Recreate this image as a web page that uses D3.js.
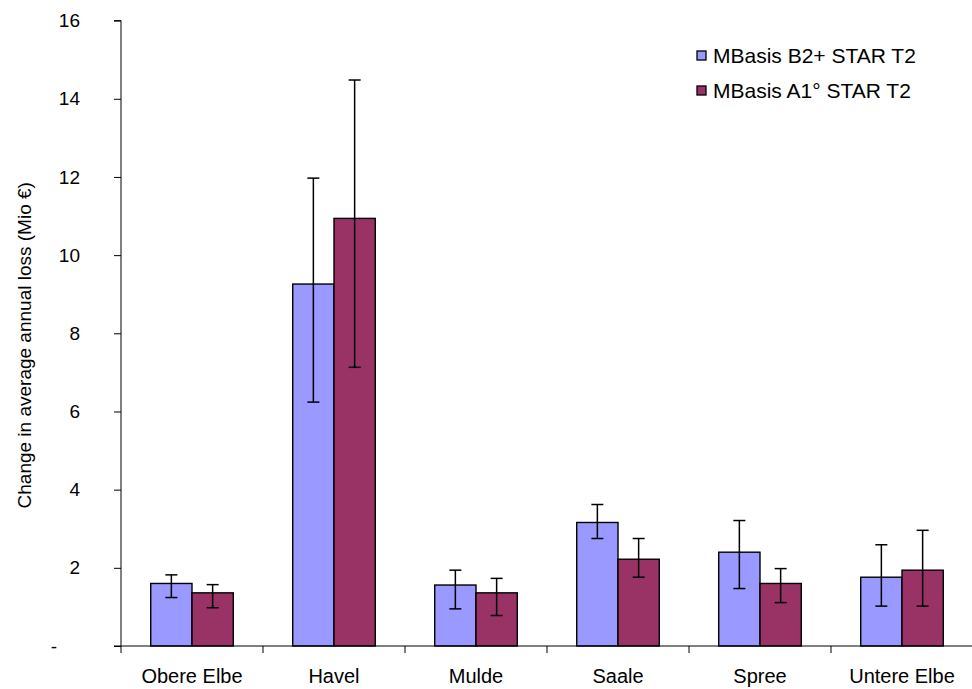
<!DOCTYPE html>
<html><head><meta charset="utf-8">
<script src="https://cdn.jsdelivr.net/npm/d3@7"></script>
<style>body{margin:0;background:#fff}svg{display:block}text{font-family:"Liberation Sans",Arial,sans-serif;fill:#000}</style>
</head><body>
<script>
const categories = ["Obere Elbe","Havel","Mulde","Saale","Spree","Untere Elbe"];
const seriesNames = ["MBasis B2+ STAR T2","MBasis A1° STAR T2"];
const seriesColors = ["#9999FF","#993366"];
const b2Values = [1.60, 9.26, 1.56, 3.16, 2.40, 1.76];
const b2Upper  = [1.82, 11.97, 1.94, 3.62, 3.21, 2.59];
const b2Lower  = [1.24, 6.24, 0.95, 2.75, 1.47, 1.02];
const a1Values = [1.36, 10.94, 1.36, 2.22, 1.60, 1.94];
const a1Upper  = [1.57, 14.48, 1.73, 2.75, 1.98, 2.96];
const a1Lower  = [0.98, 7.13, 0.78, 1.76, 1.11, 1.02];
const yTicks = [0,2,4,6,8,10,12,14,16];
const yTitle = "Change in average annual loss (Mio €)";

const W=972,H=689;
const m={left:121};
const svg=d3.select("body").append("svg").attr("width",W).attr("height",H);
const x=d3.scaleBand().domain(categories).range([m.left,973]).paddingInner(0).paddingOuter(0);
const y=d3.scaleLinear().domain([0,16]).range([646,20.6]);
const inner=d3.scaleBand().domain([0,1]).range([0,x.bandwidth()]).paddingInner(0).paddingOuter(0.72);

const series=[
  {vals:b2Values,up:b2Upper,lo:b2Lower},
  {vals:a1Values,up:a1Upper,lo:a1Lower}
];
const g=svg.append("g");
series.forEach((s,si)=>{
  categories.forEach((c,ci)=>{
    const x0=x(c)+inner(si);
    g.append("rect").attr("x",x0).attr("y",y(s.vals[ci])).attr("width",inner.bandwidth()).attr("height",y(0)-y(s.vals[ci]))
      .attr("fill",seriesColors[si]).attr("stroke","#000").attr("stroke-width",1.4);
  });
});
series.forEach((s,si)=>{
  categories.forEach((c,ci)=>{
    const cx=x(c)+inner(si)+inner.bandwidth()/2;
    g.append("line").attr("x1",cx).attr("x2",cx).attr("y1",y(s.up[ci])).attr("y2",y(s.lo[ci])).attr("stroke","#000").attr("stroke-width",1.5);
    [s.up[ci],s.lo[ci]].forEach(v=>g.append("line").attr("x1",cx-6).attr("x2",cx+6).attr("y1",y(v)).attr("y2",y(v)).attr("stroke","#000").attr("stroke-width",1.5));
  });
});

// y axis
const ya=svg.append("g").attr("transform",`translate(${m.left},0)`)
  .call(d3.axisLeft(y).tickValues(yTicks).tickSize(7).tickPadding(34).tickFormat(d=>d===0?"-":d));
ya.select(".domain").attr("d",`M-7,${y(16)}H0V${y(0)}`);
ya.selectAll("line").attr("stroke","#000");
ya.selectAll("path").attr("stroke","#000");
ya.selectAll("text").attr("font-size",19).attr("font-family","Liberation Sans, Arial, sans-serif");
ya.selectAll(".tick").filter(d=>d===0).select("text").attr("dx",-23);

// x axis
const xa=svg.append("g").attr("transform",`translate(0,${y(0)})`);
xa.append("line").attr("x1",m.left-7).attr("x2",W).attr("y1",0).attr("y2",0).attr("stroke","#000").attr("stroke-width",1);
categories.forEach((c,i)=>{
  const tx=x(c);
  xa.append("line").attr("x1",tx).attr("x2",tx).attr("y1",0).attr("y2",7).attr("stroke","#000");
  xa.append("text").attr("x",x(c)+x.bandwidth()/2).attr("y",37).attr("text-anchor","middle").attr("font-size",20).text(c);
});

// y title
svg.append("text").attr("transform",`translate(31,${(y(0)+y(16))/2+12}) rotate(-90)`).attr("text-anchor","middle").attr("font-size",19).text(yTitle);

// legend
const lg=svg.append("g").attr("transform","translate(697,0)");
seriesNames.forEach((n,i)=>{
  const cy=56+i*35;
  lg.append("rect").attr("x",0).attr("y",cy-5).attr("width",9).attr("height",9).attr("fill",seriesColors[i]).attr("stroke","#000").attr("stroke-width",1.3);
  lg.append("text").attr("x",16).attr("y",cy+7).attr("font-size",21).text(n);
});
</script>
</body></html>
